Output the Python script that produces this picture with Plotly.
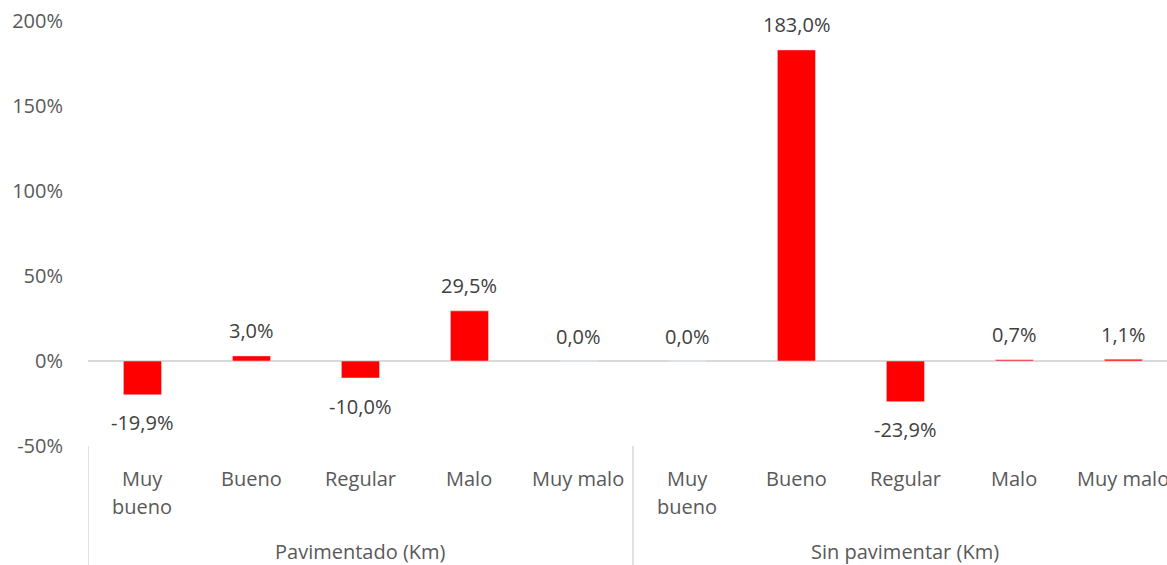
import plotly.graph_objects as go

groups = ["Pavimentado (Km)", "Sin pavimentar (Km)"]
categories = ["Muy bueno", "Bueno", "Regular", "Malo", "Muy malo"]
values = [-19.9, 3.0, -10.0, 29.5, 0.0, 0.0, 183.0, -23.9, 0.7, 1.1]
y_ticks = [-50, 0, 50, 100, 150, 200]

FONT = "Open Sans"
FS = 20
n = len(groups) * len(categories)
xs = list(range(n))
labels = [c for g in groups for c in categories]

fig = go.Figure()
fig.add_trace(go.Bar(x=xs, y=values, marker_color="#FF0000", width=0.35, hoverinfo="skip"))

ann = []
for i, v in enumerate(values):
    ann.append(dict(x=i, y=v, xref="x", yref="y", text=f"{v:.1f}%".replace(".", ","),
                    showarrow=False, yanchor="middle", yshift=25 if v >= 0 else -28,
                    font=dict(family=FONT, size=FS, color="#404040")))
# category labels (wrap "Muy bueno")
for i, lab in enumerate(labels):
    lines = ["Muy", "bueno"] if lab == "Muy bueno" else [lab]
    for k, line in enumerate(lines):
        ann.append(dict(x=i, y=0, xref="x", yref="paper", text=line, showarrow=False,
                        yanchor="middle", yshift=-32 - 28 * k,
                        font=dict(family=FONT, size=FS, color="#595959")))
for gi, g in enumerate(groups):
    ann.append(dict(x=gi * len(categories) + (len(categories) - 1) / 2, y=0, xref="x", yref="paper",
                    text=g, showarrow=False, yanchor="middle", yshift=-105,
                    font=dict(family=FONT, size=FS, color="#595959")))

shapes = []
for gi in range(len(groups) + 1):
    shapes.append(dict(type="line", xref="x", yref="paper", x0=gi * len(categories) - 0.5,
                       x1=gi * len(categories) - 0.5, y0=0, y1=-0.29,
                       line=dict(color="#d9d9d9", width=1.5)))

fig.update_layout(
    width=1167, height=565,
    margin=dict(l=88, r=0, t=21, b=119),
    paper_bgcolor="white", plot_bgcolor="white",
    showlegend=False,
    annotations=ann, shapes=shapes,
    font=dict(family=FONT, size=FS, color="#595959"),
)
fig.update_xaxes(range=[-0.5, 9.4], showticklabels=False, showgrid=False, zeroline=False,
                 showline=False, ticks="")
fig.update_yaxes(range=[-50, 200], tickvals=y_ticks, ticktext=[f"{t}%" for t in y_ticks],
                 showgrid=False, zeroline=True, zerolinecolor="#d9d9d9", zerolinewidth=1.5,
                 showline=False, ticklabelstandoff=24,
                 tickfont=dict(family=FONT, size=FS, color="#595959"))

fig.write_html("out.html", config={"displayModeBar": False},
               post_script="document.body.style.margin='0';document.body.style.overflow='hidden';")
